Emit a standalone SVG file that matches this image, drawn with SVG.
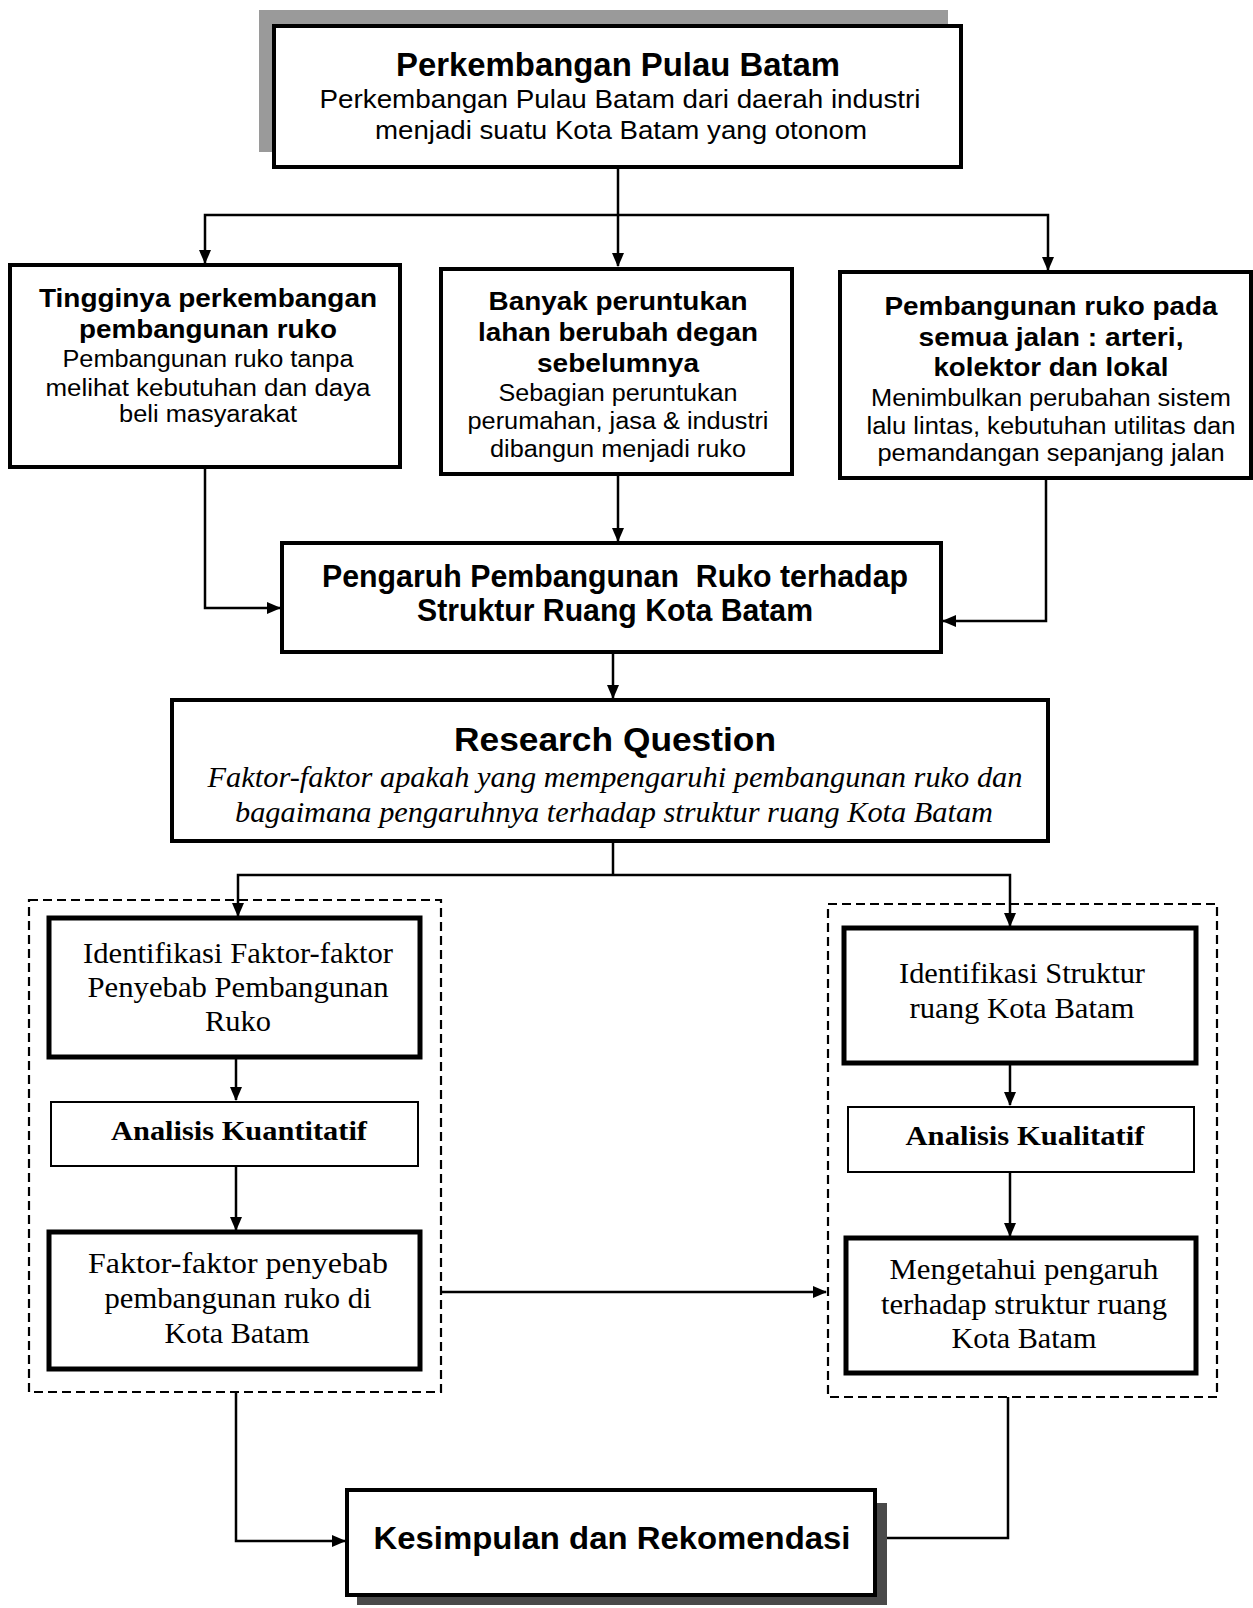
<svg xmlns="http://www.w3.org/2000/svg" width="1253" height="1608" viewBox="0 0 1253 1608">
<style>
.bg{fill:#fff}
.thick{fill:#fff;stroke:#000;stroke-width:4}
.thick5{fill:#fff;stroke:#000;stroke-width:5}
.thin{fill:#fff;stroke:#000;stroke-width:2}
.dash{fill:none;stroke:#000;stroke-width:2.2;stroke-dasharray:9 5}
.con{fill:none;stroke:#000;stroke-width:2.5}
.sb{font-family:"Liberation Sans",Arial,sans-serif;font-weight:bold;text-anchor:middle;fill:#000}
.sr{font-family:"Liberation Sans",Arial,sans-serif;text-anchor:middle;fill:#000}
.tr{font-family:"Liberation Serif","Times New Roman",serif;text-anchor:middle;fill:#000}
.tb{font-family:"Liberation Serif","Times New Roman",serif;font-weight:bold;text-anchor:middle;fill:#000}
.ti{font-family:"Liberation Serif","Times New Roman",serif;font-style:italic;text-anchor:middle;fill:#000}
</style>
<defs>
<marker id="ar" markerUnits="userSpaceOnUse" markerWidth="14" markerHeight="12" refX="13" refY="6" orient="auto">
<path d="M0,0 L14,6 L0,12 z" fill="#000"/>
</marker>
</defs>
<rect class="bg" x="0" y="0" width="1253" height="1608"/>

<g id="connectors">
<path class="con" d="M618,167 V266" marker-end="url(#ar)"/>
<path class="con" d="M618,215 H205 V263" marker-end="url(#ar)"/>
<path class="con" d="M618,215 H1048 V270" marker-end="url(#ar)"/>
<path class="con" d="M205,467 V608 H280" marker-end="url(#ar)"/>
<path class="con" d="M618,474 V541" marker-end="url(#ar)"/>
<path class="con" d="M1046,478 V621 H943" marker-end="url(#ar)"/>
<path class="con" d="M613,652 V698" marker-end="url(#ar)"/>
<path class="con" d="M613,841 V875"/>
<path class="con" d="M613,875 H238 V916" marker-end="url(#ar)"/>
<path class="con" d="M613,875 H1010 V926" marker-end="url(#ar)"/>
<path class="con" d="M236,1057 V1100" marker-end="url(#ar)"/>
<path class="con" d="M236,1166 V1230" marker-end="url(#ar)"/>
<path class="con" d="M1010,1063 V1105" marker-end="url(#ar)"/>
<path class="con" d="M1010,1172 V1236" marker-end="url(#ar)"/>
<path class="con" d="M441,1292 H826" marker-end="url(#ar)"/>
<path class="con" d="M236,1392 V1541 H345" marker-end="url(#ar)"/>
<path class="con" d="M1008,1397 V1538 H877"/>
</g>

<g id="top">
<rect x="259" y="10" width="689" height="142" fill="#9a9a9a"/>
<rect class="thick" x="274" y="26" width="687" height="141"/>
<text class="sb" x="618" y="76" font-size="33" textLength="444" lengthAdjust="spacingAndGlyphs">Perkembangan Pulau Batam</text>
<text class="sr" x="620" y="108" font-size="26" textLength="601" lengthAdjust="spacingAndGlyphs">Perkembangan Pulau Batam dari daerah industri</text>
<text class="sr" x="621" y="139" font-size="26" textLength="492" lengthAdjust="spacingAndGlyphs">menjadi suatu Kota Batam yang otonom</text>
</g>

<g id="box-left">
<rect class="thick" x="10" y="265" width="390" height="202"/>
<text class="sb" x="208" y="307" font-size="26" textLength="338" lengthAdjust="spacingAndGlyphs">Tingginya perkembangan</text>
<text class="sb" x="208" y="338" font-size="26" textLength="258" lengthAdjust="spacingAndGlyphs">pembangunan ruko</text>
<text class="sr" x="208" y="367" font-size="23" textLength="291" lengthAdjust="spacingAndGlyphs">Pembangunan ruko tanpa</text>
<text class="sr" x="208" y="396" font-size="23" textLength="325" lengthAdjust="spacingAndGlyphs">melihat kebutuhan dan daya</text>
<text class="sr" x="208" y="422" font-size="23" textLength="178" lengthAdjust="spacingAndGlyphs">beli masyarakat</text>
</g>

<g id="box-middle">
<rect class="thick" x="441" y="269" width="351" height="205"/>
<text class="sb" x="618" y="310" font-size="26" textLength="259" lengthAdjust="spacingAndGlyphs">Banyak peruntukan</text>
<text class="sb" x="618" y="341" font-size="26" textLength="280" lengthAdjust="spacingAndGlyphs">lahan berubah degan</text>
<text class="sb" x="618" y="372" font-size="26" textLength="162" lengthAdjust="spacingAndGlyphs">sebelumnya</text>
<text class="sr" x="618" y="401" font-size="23" textLength="239" lengthAdjust="spacingAndGlyphs">Sebagian peruntukan</text>
<text class="sr" x="618" y="429" font-size="23" textLength="301" lengthAdjust="spacingAndGlyphs">perumahan, jasa &amp; industri</text>
<text class="sr" x="618" y="457" font-size="23" textLength="256" lengthAdjust="spacingAndGlyphs">dibangun menjadi ruko</text>
</g>

<g id="box-right">
<rect class="thick" x="840" y="272" width="411" height="206"/>
<text class="sb" x="1051" y="315" font-size="26" textLength="333" lengthAdjust="spacingAndGlyphs">Pembangunan ruko pada</text>
<text class="sb" x="1051" y="346" font-size="26" textLength="265" lengthAdjust="spacingAndGlyphs">semua jalan : arteri,</text>
<text class="sb" x="1051" y="376" font-size="26" textLength="235" lengthAdjust="spacingAndGlyphs">kolektor dan lokal</text>
<text class="sr" x="1051" y="406" font-size="23" textLength="360" lengthAdjust="spacingAndGlyphs">Menimbulkan perubahan sistem</text>
<text class="sr" x="1051" y="434" font-size="23" textLength="369" lengthAdjust="spacingAndGlyphs">lalu lintas, kebutuhan utilitas dan</text>
<text class="sr" x="1051" y="461" font-size="23" textLength="347" lengthAdjust="spacingAndGlyphs">pemandangan sepanjang jalan</text>
</g>

<g id="pengaruh">
<rect class="thick" x="282" y="543" width="659" height="109"/>
<text class="sb" x="615" y="587" font-size="31" textLength="586" lengthAdjust="spacingAndGlyphs">Pengaruh Pembangunan&#160; Ruko terhadap</text>
<text class="sb" x="615" y="621" font-size="31" textLength="396" lengthAdjust="spacingAndGlyphs">Struktur Ruang Kota Batam</text>
</g>

<g id="research">
<rect class="thick" x="172" y="700" width="876" height="141"/>
<text class="sb" x="615" y="751" font-size="34" textLength="322" lengthAdjust="spacingAndGlyphs">Research Question</text>
<text class="ti" x="615" y="787" font-size="29" textLength="815" lengthAdjust="spacingAndGlyphs">Faktor-faktor apakah yang mempengaruhi pembangunan ruko dan</text>
<text class="ti" x="614" y="822" font-size="29" textLength="758" lengthAdjust="spacingAndGlyphs">bagaimana pengaruhnya terhadap struktur ruang Kota Batam</text>
</g>

<g id="group-left">
<rect class="dash" x="29" y="900" width="412" height="492"/>
</g>
<g id="group-right">
<rect class="dash" x="828" y="904" width="389" height="493"/>
</g>

<g id="identifikasi-faktor">
<rect class="thick5" x="49" y="918" width="371" height="139"/>
<text class="tr" x="238" y="963" font-size="29" textLength="310" lengthAdjust="spacingAndGlyphs">Identifikasi Faktor-faktor</text>
<text class="tr" x="238" y="997" font-size="29" textLength="301" lengthAdjust="spacingAndGlyphs">Penyebab Pembangunan</text>
<text class="tr" x="238" y="1031" font-size="29" textLength="66" lengthAdjust="spacingAndGlyphs">Ruko</text>
</g>

<g id="analisis-kuantitatif">
<rect class="thin" x="51" y="1102" width="367" height="64"/>
<text class="tb" x="239" y="1140" font-size="28" textLength="256" lengthAdjust="spacingAndGlyphs">Analisis Kuantitatif</text>
</g>

<g id="faktor-penyebab">
<rect class="thick5" x="49" y="1232" width="371" height="137"/>
<text class="tr" x="238" y="1273" font-size="29" textLength="300" lengthAdjust="spacingAndGlyphs">Faktor-faktor penyebab</text>
<text class="tr" x="238" y="1308" font-size="29" textLength="267" lengthAdjust="spacingAndGlyphs">pembangunan ruko di</text>
<text class="tr" x="237" y="1343" font-size="29" textLength="145" lengthAdjust="spacingAndGlyphs">Kota Batam</text>
</g>

<g id="identifikasi-struktur">
<rect class="thick5" x="844" y="928" width="352" height="135"/>
<text class="tr" x="1022" y="983" font-size="29" textLength="246" lengthAdjust="spacingAndGlyphs">Identifikasi Struktur</text>
<text class="tr" x="1022" y="1018" font-size="29" textLength="225" lengthAdjust="spacingAndGlyphs">ruang Kota Batam</text>
</g>

<g id="analisis-kualitatif">
<rect class="thin" x="848" y="1107" width="346" height="65"/>
<text class="tb" x="1025" y="1145" font-size="28" textLength="239" lengthAdjust="spacingAndGlyphs">Analisis Kualitatif</text>
</g>

<g id="mengetahui">
<rect class="thick5" x="846" y="1238" width="350" height="135"/>
<text class="tr" x="1024" y="1279" font-size="29" textLength="269" lengthAdjust="spacingAndGlyphs">Mengetahui pengaruh</text>
<text class="tr" x="1024" y="1314" font-size="29" textLength="286" lengthAdjust="spacingAndGlyphs">terhadap struktur ruang</text>
<text class="tr" x="1024" y="1348" font-size="29" textLength="145" lengthAdjust="spacingAndGlyphs">Kota Batam</text>
</g>

<g id="kesimpulan">
<rect x="357" y="1503" width="530" height="102" fill="#4a4a4a"/>
<rect class="thick" x="347" y="1490" width="528" height="105"/>
<text class="sb" x="612" y="1549" font-size="32" textLength="477" lengthAdjust="spacingAndGlyphs">Kesimpulan dan Rekomendasi</text>
</g>
</svg>
